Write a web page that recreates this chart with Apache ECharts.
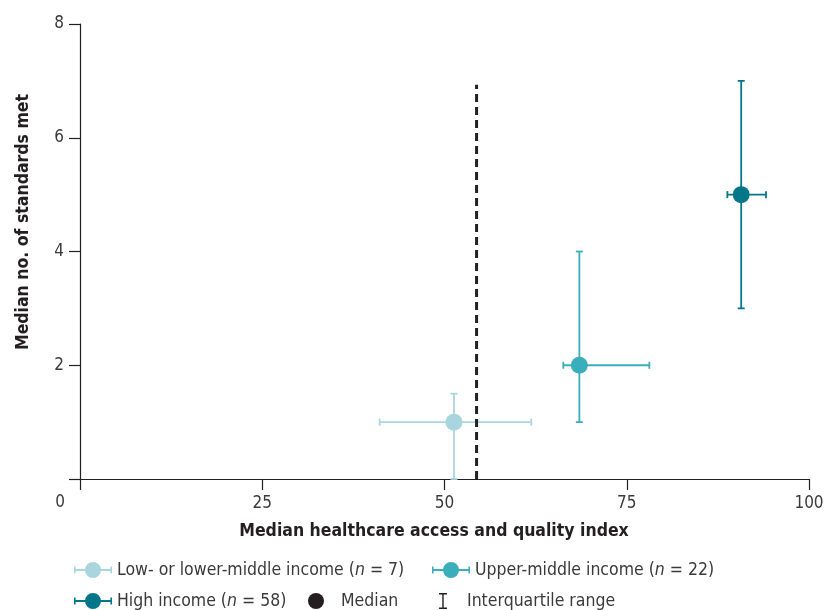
<!DOCTYPE html>
<html>
<head>
<meta charset="utf-8">
<script src="https://cdn.jsdelivr.net/npm/echarts@6/dist/echarts.min.js"></script>
<style>html,body{margin:0;padding:0;background:#fff}#c{width:829px;height:610px}</style>
</head>
<body>
<div id="c"></div>
<script>
// ---- data ----
const groups = ['Low- or lower-middle income', 'Upper-middle income', 'High income'];
const nCounts = [7, 22, 58];
const haqMedian = [51.3, 68.5, 90.7];
const haqQ1 = [41.1, 66.3, 88.8];
const haqQ3 = [61.9, 78.1, 94.1];
const stdMedian = [1, 2, 5];
const stdQ1 = [0, 1, 3];
const stdQ3 = [1.5, 4, 7];
const thresholdHAQ = 54.4;
const thresholdTop = 6.93;
const xTicks = [0, 25, 50, 75, 100];
const yTicks = [0, 2, 4, 6, 8];

const colors = ['#a9d6de', '#3aaebb', '#04768a'];
const ink = '#231f20';
const FONT = '"Liberation Sans Narrow", "DejaVu Sans Condensed", sans-serif';

const seriesIcon = 'path://M11,8A8,8,0,1,1,27,8A8,8,0,1,1,11,8Z M0,7.1L38,7.1L38,8.9L0,8.9Z M0,4.5L1.6,4.5L1.6,11.5L0,11.5Z M36.4,4.5L38,4.5L38,11.5L36.4,11.5Z';
const circleIcon = 'path://M0,8A8,8,0,1,1,16,8A8,8,0,1,1,0,8Z';
const iqrIcon = 'path://M0,0L8,0L8,1.4L4.7,1.4L4.7,14.6L8,14.6L8,16L0,16L0,14.6L3.3,14.6L3.3,1.4L0,1.4Z';

const chart = echarts.init(document.getElementById('c'), null, {renderer: 'canvas'});

const legendText = {
  fontFamily: FONT, fontSize: 17.5, color: '#3a3a3a',
  rich: { i: { fontFamily: FONT, fontSize: 17.5, color: '#3a3a3a', fontStyle: 'italic' } }
};
function legendFmt(name) {
  const k = groups.indexOf(name);
  return k >= 0 ? name + ' ({i|n} = ' + nCounts[k] + ')' : name;
}
function mkLegend(name, icon, color, left, top, w) {
  return {
    data: [{ name: name, icon: icon, itemStyle: { color: color, opacity: 1 } }],
    left: left, top: top, itemWidth: w, itemHeight: 16,
    orient: 'horizontal', padding: 0, selectedMode: false,
    formatter: legendFmt, textStyle: legendText
  };
}

const series = [];
groups.forEach((g, k) => {
  series.push({
    name: g, type: 'custom', z: 2,
    data: [[haqMedian[k], stdMedian[k], haqQ1[k], haqQ3[k], stdQ1[k], stdQ3[k]]],
    renderItem: function (params, api) {
      const mx = api.value(0), my = api.value(1);
      const pL = api.coord([api.value(2), my]);
      const pR = api.coord([api.value(3), my]);
      const pB = api.coord([mx, api.value(4)]);
      const pT = api.coord([mx, api.value(5)]);
      const c = 3.5;
      const st = { stroke: colors[k], lineWidth: 1.8, fill: null };
      return {
        type: 'group',
        children: [
          { type: 'line', shape: { x1: pL[0], y1: pL[1], x2: pR[0], y2: pR[1] }, style: st },
          { type: 'line', shape: { x1: pL[0], y1: pL[1] - c, x2: pL[0], y2: pL[1] + c }, style: st },
          { type: 'line', shape: { x1: pR[0], y1: pR[1] - c, x2: pR[0], y2: pR[1] + c }, style: st },
          { type: 'line', shape: { x1: pB[0], y1: pB[1], x2: pT[0], y2: pT[1] }, style: st },
          { type: 'line', shape: { x1: pB[0] - c, y1: pB[1], x2: pB[0] + c, y2: pB[1] }, style: st },
          { type: 'line', shape: { x1: pT[0] - c, y1: pT[1], x2: pT[0] + c, y2: pT[1] }, style: st }
        ]
      };
    },
    itemStyle: { color: colors[k] },
    silent: true
  });
  series.push({
    name: g, type: 'scatter', z: 5,
    symbol: 'circle', symbolSize: 17,
    data: [[haqMedian[k], stdMedian[k]]],
    itemStyle: { color: colors[k], opacity: 1 }
  });
});
series.push({ name: 'Median', type: 'scatter', data: [], itemStyle: { color: ink, opacity: 1 } });
series.push({ name: 'Interquartile range', type: 'scatter', data: [], itemStyle: { color: ink, opacity: 1 } });
series.push({
  name: 'threshold', type: 'line', z: 3, symbol: 'none', silent: true,
  data: [[thresholdHAQ, 0], [thresholdHAQ, thresholdTop]],
  lineStyle: { color: ink, width: 3, type: [8, 5] }
});

const hideZero = v => (v === 0 ? '' : String(v));

chart.setOption({
  animation: false,
  backgroundColor: '#ffffff',
  grid: { left: 80, right: 20, top: 24, bottom: 131, containLabel: false },
  xAxis: {
    type: 'value', min: xTicks[0], max: xTicks[xTicks.length - 1], interval: 25,
    axisLine: { show: true, onZero: false, lineStyle: { color: ink, width: 1.2 } },
    axisTick: { show: true, length: 11, lineStyle: { color: ink, width: 1.2 } },
    axisLabel: { showMinLabel: true, formatter: hideZero, margin: 16, fontFamily: FONT, fontSize: 17, color: '#3a3a3a' },
    splitLine: { show: false }
  },
  yAxis: {
    type: 'value', min: yTicks[0], max: yTicks[yTicks.length - 1], interval: 2,
    axisLine: { show: true, onZero: false, lineStyle: { color: ink, width: 1.2 } },
    axisTick: { show: true, length: 11, lineStyle: { color: ink, width: 1.2 } },
    axisLabel: { showMinLabel: true, formatter: hideZero, margin: 16, fontFamily: FONT, fontSize: 17, color: '#3a3a3a' },
    splitLine: { show: false }
  },
  legend: [
    mkLegend(groups[0], seriesIcon, colors[0], 74, 561, 38),
    mkLegend(groups[1], seriesIcon, colors[1], 432, 561, 38),
    mkLegend(groups[2], seriesIcon, colors[2], 74, 592, 38),
    mkLegend('Median', circleIcon, ink, 308, 592, 40),
    mkLegend('Interquartile range', iqrIcon, ink, 439, 592, 38)
  ],
  graphic: [
    { type: 'text', x: 60, y: 503, silent: true,
      style: { text: String(xTicks[0]), font: '17px ' + FONT, fill: '#3a3a3a',
               textAlign: 'center', textVerticalAlign: 'middle', align: 'center', verticalAlign: 'middle' } },
    { type: 'text', x: 434, y: 531, silent: true,
      style: { text: 'Median healthcare access and quality index', font: 'bold 17.5px ' + FONT, fill: ink,
               textAlign: 'center', textVerticalAlign: 'middle', align: 'center', verticalAlign: 'middle' } },
    { type: 'text', x: 23, y: 222, rotation: Math.PI / 2, silent: true,
      style: { text: 'Median no. of standards met', font: 'bold 17.5px ' + FONT, fill: ink,
               textAlign: 'center', textVerticalAlign: 'middle', align: 'center', verticalAlign: 'middle' } }
  ],
  series: series
});
</script>
</body>
</html>
